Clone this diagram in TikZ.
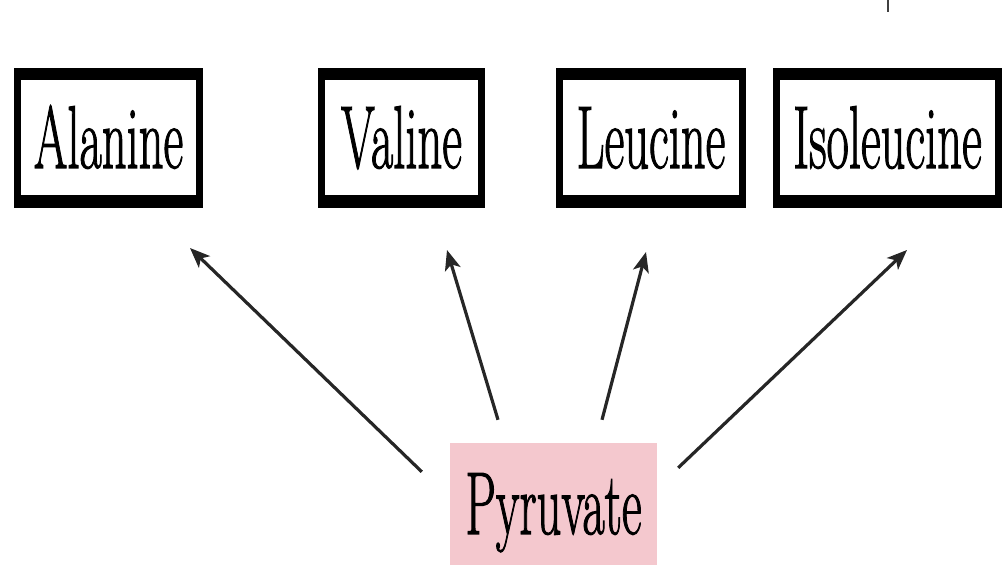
\documentclass[tikz,border=0pt]{standalone}
\usepackage{fontspec}
\usepackage{graphicx}
\usetikzlibrary{arrows.meta}
\definecolor{pyrpink}{RGB}{244,200,206}
\newfontfamily\labelfont[FakeBold=1.6]{Latin Modern Roman}
% condensed, tall serif labels
\newcommand{\amino}[1]{\scalebox{0.545}[1]{\labelfont\fontsize{89}{100}\selectfont #1}}
\tikzset{
  aminobox/.style={draw=black, line width=7pt, fill=white, inner sep=0pt,
    minimum height=133pt, text height=60pt, text depth=0pt,
    path picture={
      \fill[black] (path picture bounding box.north west) rectangle ([yshift=-9pt]path picture bounding box.north east);
      \fill[black] (path picture bounding box.south west) rectangle ([yshift=9pt]path picture bounding box.south east);
    }},
  sourcebox/.style={fill=pyrpink, draw=none, inner sep=0pt,
    minimum width=207pt, minimum height=122pt, text height=60pt, text depth=0pt},
  conv/.style={draw=black!85, line width=3.2pt,
    -{Stealth[length=20pt,width=16pt,inset=5pt]}},
}
\begin{document}
\begin{tikzpicture}[x=1pt,y=1pt]
  \useasboundingbox (0,0) rectangle (1003,588);

  % amino acid products
  \node[aminobox, minimum width=182pt] (ala) at (108.5,450) {\amino{Alanine}};
  \node[aminobox, minimum width=160pt] (val) at (401.5,450) {\amino{Valine}};
  \node[aminobox, minimum width=183pt] (leu) at (651,450) {\amino{Leucine}};
  \node[aminobox, minimum width=222pt] (iso) at (887.5,450) {\amino{Isoleucine}};

  % precursor
  \node[sourcebox] (pyr) at (553.5,84) {\amino{Pyruvate}};

  % conversions
  \draw[conv] ([shift={(-28,-29)}]pyr.north west) -- ([shift={(81.5,-40)}]ala.south);
  \draw[conv] ([shift={(-55.5,23)}]pyr.north) -- ([shift={(45.5,-42)}]val.south);
  \draw[conv] ([shift={(48.5,23)}]pyr.north) -- ([shift={(-5,-44)}]leu.south);
  \draw[conv] ([shift={(21,-25)}]pyr.north east) -- ([shift={(19.5,-42)}]iso.south);

  % stub entering from above the page edge
  \draw[black!75, line width=2.5pt] ([shift={(0.5,68)}]iso.north) -- ([shift={(0.5,56)}]iso.north);
\end{tikzpicture}
\end{document}
